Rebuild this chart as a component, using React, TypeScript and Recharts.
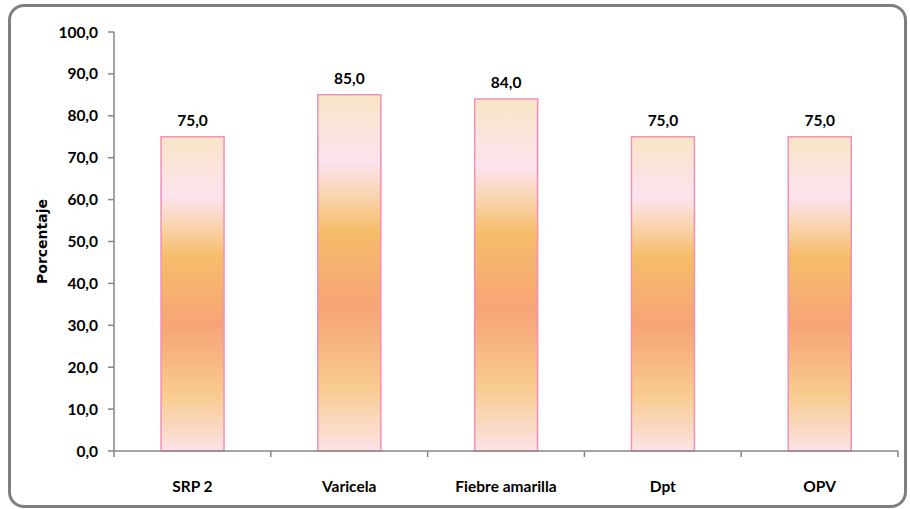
import React from "react";
import { BarChart, Bar, XAxis, YAxis, LabelList, Label } from "recharts";

const categories = ["SRP 2", "Varicela", "Fiebre amarilla", "Dpt", "OPV"];
const values = [75.0, 85.0, 84.0, 75.0, 75.0];
const yTicks = [0, 10, 20, 30, 40, 50, 60, 70, 80, 90, 100];

const data = categories.map((name, i) => ({ name, value: values[i] }));

const fmt = (v: number) => v.toFixed(1).replace(".", ",");
const FONT = "Lato, 'Open Sans', sans-serif";
const AXIS = "#868686";
const X_TICK_GAP = 30;

const CatTick = (props: any) => {
  const { x, y, payload, width, visibleTicksCount, index } = props;
  let half = payload && payload.offset ? payload.offset : 0;
  if (!half && width && visibleTicksCount) half = width / visibleTicksCount / 2;
  const last = index === (visibleTicksCount || categories.length) - 1;
  const axisY = y - X_TICK_GAP;
  return (
    <g>
      <line x1={x - half} x2={x + half} y1={axisY} y2={axisY} stroke={AXIS} strokeWidth={1.5} />
      <line x1={x - half} x2={x - half} y1={axisY} y2={axisY + 6} stroke={AXIS} strokeWidth={1.5} />
      {last && (
        <line x1={x + half} x2={x + half} y1={axisY} y2={axisY + 6} stroke={AXIS} strokeWidth={1.5} />
      )}
      <text
        x={x}
        y={y}
        dy={11}
        textAnchor="middle"
        fill="#000"
        fontFamily={FONT}
        fontWeight={700}
        fontSize={15.5}
      >
        {payload.value}
      </text>
    </g>
  );
};

export default function App() {
  return (
    <div style={{ position: "absolute", left: 0, top: 0, width: 910, height: 509, background: "#fff" }}>
      <div
        style={{
          position: "absolute",
          left: 8,
          top: 4,
          width: 899,
          height: 504,
          boxSizing: "border-box",
          border: "3px solid #7f7f7f",
          borderRadius: 16,
        }}
      />
      <div style={{ position: "absolute", left: 0, top: 0 }}>
        <BarChart
          width={910}
          height={509}
          data={data}
          margin={{ top: 32, right: 12, bottom: 0, left: 0 }}
          barCategoryGap="30%"
        >
          <defs>
            <linearGradient id="barGrad" x1="0" y1="0" x2="0" y2="1">
              <stop offset="0%" stopColor="#f9e5c6" />
              <stop offset="19%" stopColor="#fce3ee" />
              <stop offset="28%" stopColor="#f9d5b0" />
              <stop offset="38%" stopColor="#f6bd6a" />
              <stop offset="60%" stopColor="#f7a476" />
              <stop offset="82%" stopColor="#f8cb8e" />
              <stop offset="100%" stopColor="#fce3e6" />
            </linearGradient>
          </defs>
          <XAxis
            dataKey="name"
            height={58}
            axisLine={false}
            tickLine={false}
            tickSize={0}
            tickMargin={X_TICK_GAP}
            interval={0}
            tick={<CatTick />}
          />
          <YAxis
            width={114}
            domain={[0, 100]}
            ticks={yTicks}
            tickFormatter={fmt}
            axisLine={{ stroke: AXIS, strokeWidth: 1.5 }}
            tickLine={{ stroke: AXIS, strokeWidth: 1.5 }}
            tickSize={6}
            tickMargin={10}
            interval={0}
            tick={{ fill: "#000", fontFamily: FONT, fontWeight: 700, fontSize: 15.5 }}
          >
            <Label
              value="Porcentaje"
              angle={-90}
              position="insideLeft"
              offset={42}
              style={{
                fill: "#000",
                fontFamily: "'DejaVu Sans', sans-serif",
                fontWeight: 700,
                fontSize: 14,
                textAnchor: "middle",
              }}
            />
          </YAxis>
          <Bar
            dataKey="value"
            fill="url(#barGrad)"
            stroke="#f48fb8"
            strokeWidth={1.5}
            isAnimationActive={false}
          >
            <LabelList
              dataKey="value"
              position="top"
              offset={11}
              formatter={(v: any) => fmt(Number(v))}
              style={{ fill: "#000", fontFamily: FONT, fontWeight: 700, fontSize: 15.5 }}
            />
          </Bar>
        </BarChart>
      </div>
    </div>
  );
}
